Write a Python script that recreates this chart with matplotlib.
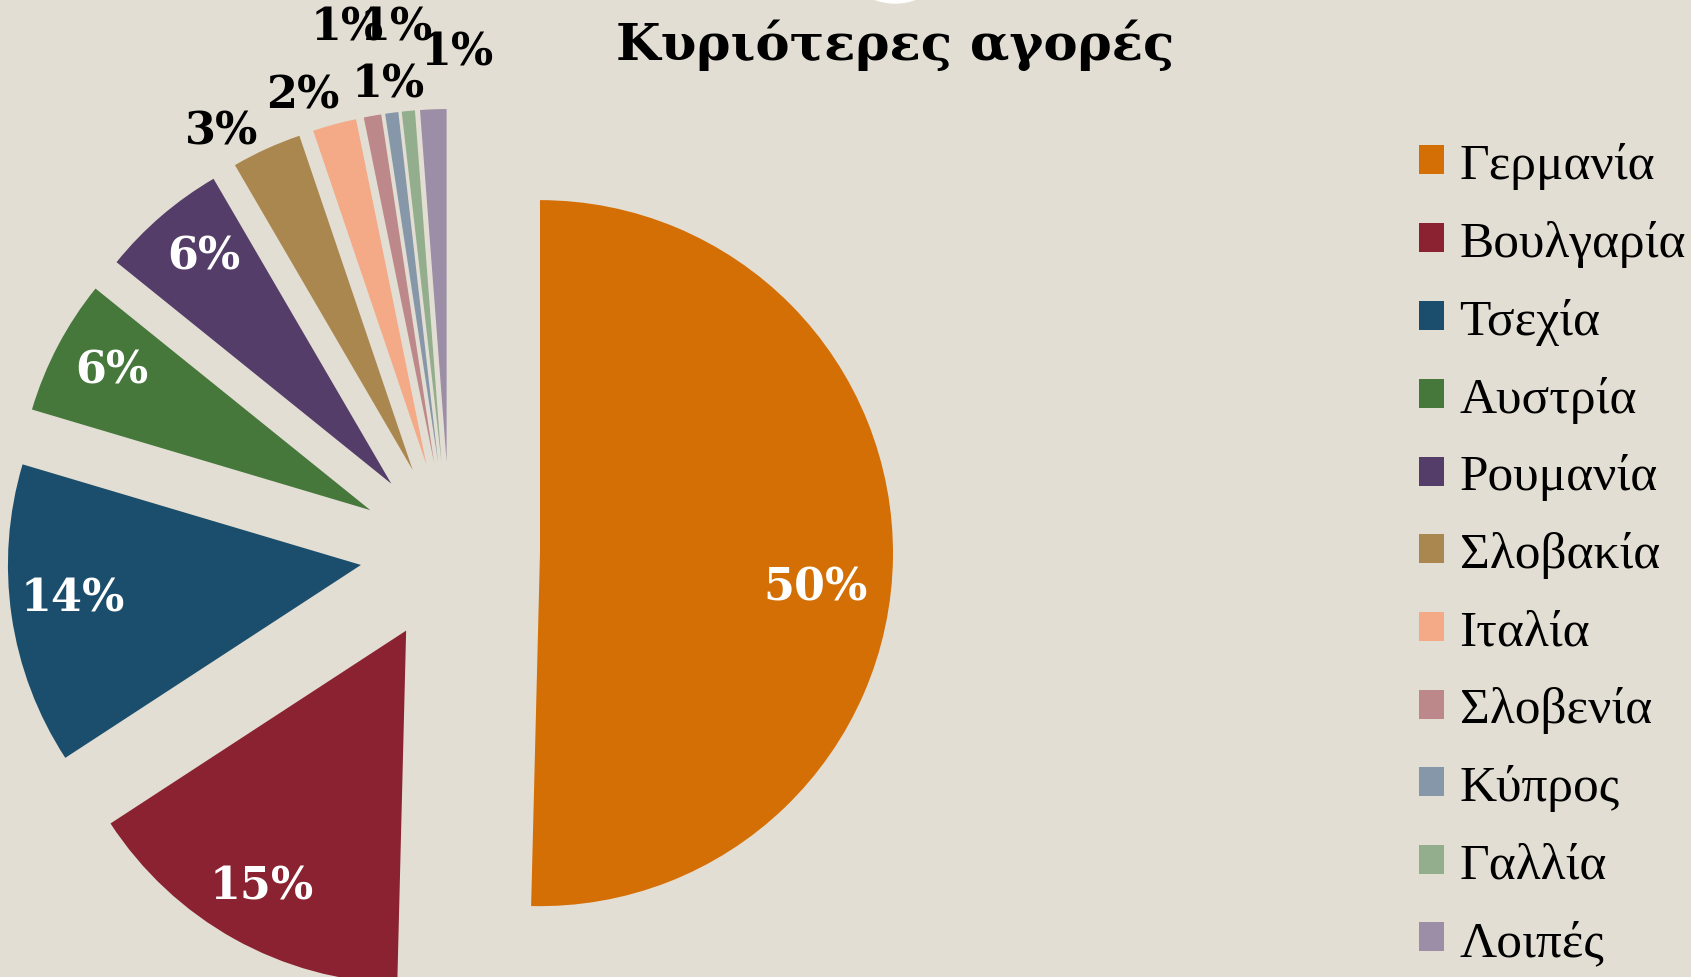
import numpy as np
import matplotlib
matplotlib.use("Agg")
from matplotlib import pyplot as plt
from matplotlib.patches import Patch, Circle

# data
countries = ['Γερμανία', 'Βουλγαρία', 'Τσεχία', 'Αυστρία', 'Ρουμανία', 'Σλοβακία',
             'Ιταλία', 'Σλοβενία', 'Κύπρος', 'Γαλλία', 'Λοιπές']
shares = [50.4, 15.4, 13.8, 6.2, 5.8, 3.2, 2.0, 0.8, 0.6, 0.6, 1.2]
colors = ['#D46F05', '#8A2231', '#1A4E6C', '#46773B', '#543D69', '#AA874F',
          '#F4A987', '#BD8889', '#8597A8', '#93AE8D', '#9B8EA6']
title = 'Κυριότερες αγορές'

# label placement: distance from pie centre (in radii) and angle nudge (deg)
lab_r = [1.04, 1.086, 1.076, 1.089, 1.09, 1.357, 1.36, 1.515, 1.495, 1.337, 1.417]
lab_d = [-4.8, -0.2, -1.25, -0.6, -1.0, 4.0, 2.7, 1.0, -1.75, 2.1, -3.0]
n_inside = 5

bg = '#E3DED3'
W, H = 1691, 978
cx, cy, R = 450, 553, 353   # pie centre / radius in pixels (from top-left)

fig = plt.figure(figsize=(W / 100, H / 100), dpi=100, facecolor=bg)
ax = fig.add_axes([0, 0, 1, 1])
ax.set_facecolor(bg)

wedges, _ = ax.pie(shares, colors=colors, startangle=90, counterclock=False,
                   explode=[90 / R] * len(shares), radius=1,
                   wedgeprops=dict(linewidth=0))

for i, w in enumerate(wedges):
    phi = np.radians((w.theta1 + w.theta2) / 2 + lab_d[i])
    x, y = lab_r[i] * np.cos(phi), lab_r[i] * np.sin(phi)
    ax.text(x, y, f'{round(shares[i]):d}%', ha='center', va='center',
            fontsize=32, fontweight='bold', family='DejaVu Serif',
            color='white' if i < n_inside else 'black')

ax.set_xlim(-cx / R, (W - cx) / R)
ax.set_ylim(-(H - cy) / R, cy / R)
ax.set_aspect('auto')
ax.axis('off')

# white blob cut off at the top edge
ax.add_patch(Circle(((895 - cx) / R, (cy + 55) / R), 59 / R, color='white', clip_on=True))

fig.text(895 / W, 1 - 45 / H, title, ha='center', va='center', fontsize=37,
         fontweight='bold', family='DejaVu Serif')

handles = [Patch(facecolor=c, edgecolor='none') for c in colors]
fig.legend(handles, countries, loc='upper left', bbox_to_anchor=(1419 / W, 1 - 143 / H),
           frameon=False, prop={'family': 'Liberation Serif', 'size': 37},
           handlelength=0.49, handleheight=0.49, handletextpad=0.3,
           labelspacing=0.6, borderaxespad=0, borderpad=0)

fig.savefig('out.png', dpi=100, facecolor=bg)
